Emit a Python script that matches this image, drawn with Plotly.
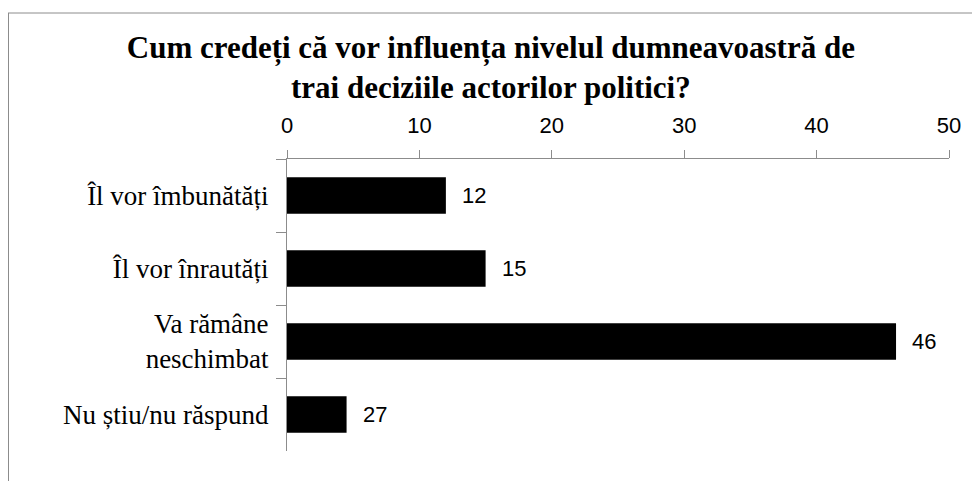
import plotly.graph_objects as go

categories = ["Îl vor îmbunătăți", "Îl vor înrautăți", "Va rămâne<br>neschimbat", "Nu știu/nu răspund"]
bar_values = [12, 15, 46, 4.5]
value_labels = ["12", "15", "46", "27"]
x_ticks = [0, 10, 20, 30, 40, 50]
title_text = "Cum credeți că vor influența nivelul dumneavoastră de<br>trai deciziile actorilor politici?"

W, H = 972, 481
L, R, T, B = 287, 23, 159, 30
PW, PH = W - L - R, H - T - B

TITLE_FONT = '"Liberation Serif", serif'
CAT_FONT = '"Liberation Serif", serif'
SANS = '"Liberation Sans", Arial, sans-serif'

def px_x(p):
    return (p - L) / PW

def px_y(p):
    return (H - B - p) / PH

fig = go.Figure()
fig.add_trace(go.Bar(
    x=bar_values, y=categories, orientation="h",
    marker=dict(color="#000000", line=dict(width=0)),
    width=0.5, hoverinfo="skip",
))

for v, c, t in zip(bar_values, categories, value_labels):
    fig.add_annotation(x=v, y=c, text=t, showarrow=False, xanchor="left",
                       xshift=14, font=dict(family=SANS, size=22, color="#000"))

fig.add_shape(type="line", xref="paper", yref="paper",
              x0=px_x(8), x1=px_x(975), y0=px_y(13), y1=px_y(13),
              line=dict(color="#8c8c8c", width=1))
fig.add_shape(type="line", xref="paper", yref="paper",
              x0=px_x(8.5), x1=px_x(8.5), y0=px_y(13), y1=px_y(485),
              line=dict(color="#8c8c8c", width=1))

fig.update_layout(
    width=W, height=H,
    margin=dict(l=L, r=R, t=T, b=B),
    paper_bgcolor="white", plot_bgcolor="white",
    showlegend=False,
    title=dict(text=title_text, x=0.505, xanchor="center", xref="container",
               y=1 - 58 / H, yanchor="top", yref="container",
               font=dict(family=TITLE_FONT, size=31, color="#000", weight="bold")),
    xaxis=dict(side="top", range=[0, 50], tickvals=x_ticks, ticktext=[str(v) for v in x_ticks],
               showgrid=False, zeroline=False, showline=True, linecolor="#8c8c8c", linewidth=1,
               ticks="outside", ticklen=8, tickcolor="#8c8c8c",
               ticklabelstandoff=8,
               tickfont=dict(family=SANS, size=22, color="#000"),
               fixedrange=True),
    yaxis=dict(autorange="reversed", showgrid=False, zeroline=False, showline=True,
               linecolor="#8c8c8c", linewidth=1, ticks="outside", ticklen=10,
               tickcolor="#8c8c8c", tickson="boundaries", ticklabelstandoff=12,
               tickfont=dict(family=CAT_FONT, size=27, color="#000"),
               fixedrange=True),
    bargap=0.5,
)

fig.write_html("out.html", config={"displayModeBar": False},
               post_script="document.body.style.margin='0';document.body.style.padding='0';")
